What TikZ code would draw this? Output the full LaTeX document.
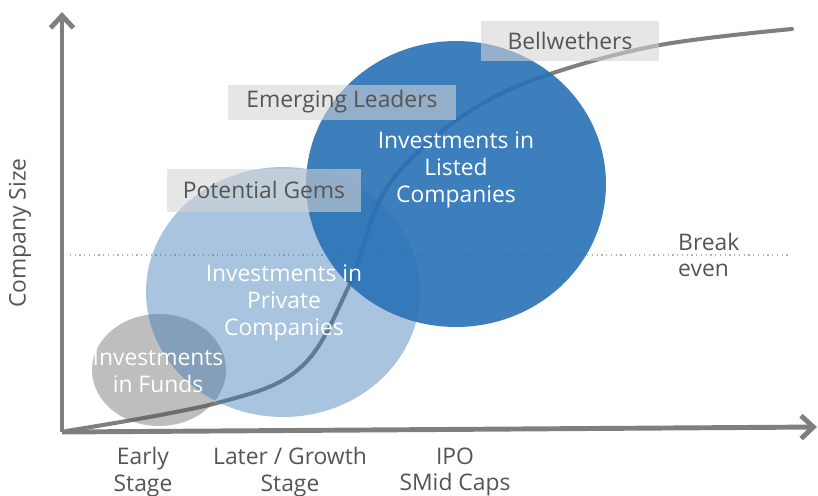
\documentclass[tikz,border=0pt]{standalone}
\usepackage{fontspec}
\setmainfont{Open Sans}
\usetikzlibrary{shapes.geometric, arrows.meta}

\definecolor{axisgray}{HTML}{7F7F7F}
\definecolor{textgray}{HTML}{555555}
\definecolor{fundgray}{HTML}{535353}
\definecolor{privblue}{HTML}{3576B3}
\definecolor{listblue}{HTML}{2871B6}
\definecolor{tagfill}{HTML}{D4D4D4}

\begin{document}
\begin{tikzpicture}[x=0.02cm, y=-0.02cm,
    every node/.style={font=\fontsize{13}{15.2}\selectfont, align=center},
    axis/.style={draw=axisgray, line width=2.8pt, -{Straight Barb[length=7pt, width=13pt]}},
    blob/.style={ellipse, draw=none, inner sep=0pt},
    tag/.style={fill=tagfill, fill opacity=0.58, text opacity=1, text=textgray, inner sep=0pt},
    inside/.style={text=white},
    stage/.style={text=textgray}]
    \useasboundingbox (0,0) rectangle (818,495);

    % Axes
    \coordinate (origin) at (62,432);
    \coordinate (ytop) at (62,12);
    \coordinate (xend) at (817,427);

    % Break even line
    \draw[axisgray!60, dotted, line width=0.7pt] (70,255) -- (790,255);

    % Growth curve
    \draw[axisgray, line width=2.3pt, line cap=round] plot[smooth, tension=0.6] coordinates
        {(66,431) (217,403) (300,368) (347,290) (380,200) (420,150) (480,105) (550,74) (660,45) (792,29)};

    % Investment areas
    \node[blob, fill=fundgray, fill opacity=0.38, minimum width=2.68cm, minimum height=2.24cm] (funds) at (159,370) {};
    \node[blob, fill=privblue, fill opacity=0.43, minimum width=5.48cm, minimum height=5cm] (private) at (283,292) {};
    \node[blob, fill=listblue, fill opacity=0.9, minimum width=6cm, minimum height=5.72cm] (listed) at (456,184) {};

    % Company stages
    \node[tag, minimum width=3.58cm, minimum height=0.8cm] (bell) at (570,41) {Bellwethers};
    \node[tag, minimum width=4.58cm, minimum height=0.7cm] (leaders) at (342,102) {Emerging Leaders};
    \node[tag, minimum width=3.88cm, minimum height=0.86cm] (gems) at (264,190) {Potential Gems};

    % Labels
    \node[inside] (listedtext) at (456,170) {Investments in\\Listed\\Companies};
    \node[inside] (privtext) at (284,303) {Investments in\\Private\\Companies};
    \node[inside] (fundtext) at (158,371) {Investments\\in Funds};
    \node[stage, anchor=west, align=left] (breakeven) at (672,255) {Break\\even};
    \node[stage, rotate=90] (size) at (20,233) {Company Size};
    \node[stage] (early) at (143,472) {Early\\Stage};
    \node[stage] (later) at (290,472) {Later / Growth\\Stage};
    \node[stage] (ipo) at (455,472) {IPO\\SMid Caps};

    \draw[axis] (origin) -- (ytop);
    \draw[axis] (origin) -- (xend);
\end{tikzpicture}
\end{document}
